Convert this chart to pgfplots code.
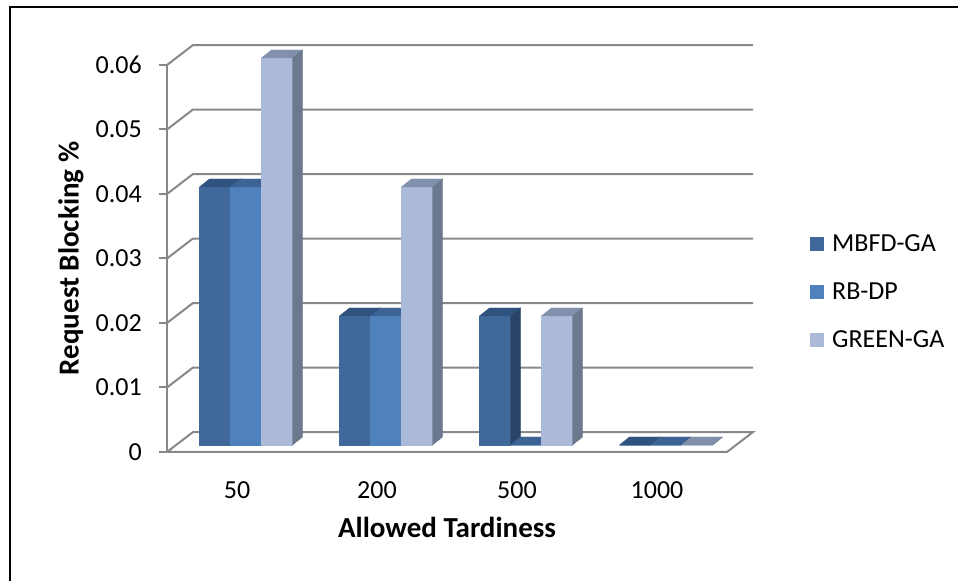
\documentclass[border=0pt]{standalone}
\usepackage{pgfplots}
\pgfplotsset{compat=1.18}
\usepackage{fontspec}
\setmainfont{Carlito}

\definecolor{gridgray}{HTML}{888888}
\definecolor{mbfdF}{HTML}{41689A}
\definecolor{mbfdT}{HTML}{30527F}
\definecolor{mbfdS}{HTML}{2A4468}
\definecolor{rbF}{HTML}{4F81BD}
\definecolor{rbT}{HTML}{3C6394}
\definecolor{rbS}{HTML}{375A86}
\definecolor{grF}{HTML}{AABAD8}
\definecolor{grT}{HTML}{8191AB}
\definecolor{grS}{HTML}{6B788E}

\pgfdeclareplotmark{nothing}{}

\pgfplotsset{
  cube/.style n args={4}{%
    forget plot, only marks, mark=nothing, scatter,
    point meta=y, point meta min=0, point meta max=0.06,
    scatter/@pre marker code/.code={%
      \pgfmathsetmacro\hh{\pgfplotspointmetatransformed*0.387}%
      \pgfmathsetmacro\LL{#1-6.5}%
      \fill[#2] (\LL bp,7bp-\hh bp) rectangle (\LL bp+31bp,7bp);
      \fill[#3] (\LL bp,7bp) -- ++(10bp,8bp) -- ++(31bp,0bp) -- ++(-10bp,-8bp) -- cycle;
      \fill[#4] (\LL bp+31bp,7bp) -- ++(10bp,8bp) -- ++(0bp,-\hh bp) -- ++(-10bp,-8bp) -- cycle;
    },
    scatter/@post marker code/.code={},
  },
}

\begin{document}
\begin{tikzpicture}
\useasboundingbox (0,0) rectangle (958bp,581bp);
\begin{axis}[
  at={(167bp,129bp)}, anchor=south west,
  scale only axis, width=560bp, height=387bp,
  xmin=-0.5, xmax=3.5, ymin=0, ymax=0.06,
  clip=false,
  axis lines=left, axis line style={-, draw=gridgray, line width=2bp},
  x axis line style={draw=none},
  xtick={0,1,2,3}, xticklabels={50,200,500,1000},
  xtick style={draw=none},
  ytick={0,0.01,0.02,0.03,0.04,0.05,0.06},
  yticklabels={0,0.01,0.02,0.03,0.04,0.05,0.06},
  scaled y ticks=false,
  ytick style={draw=gridgray, line width=2bp},
  tick align=outside, major tick length=8bp,
  /pgf/number format/assume math mode=true,
  tick label style={font=\fontsize{26bp}{31bp}\selectfont},
  xticklabel style={anchor=base, yshift=-38bp},
  yticklabel style={anchor=east, inner sep=0pt, xshift=-17bp},
  xlabel={Allowed Tardiness},
  ylabel={Request Blocking \%},
  every axis x label/.style={at={(axis description cs:0.5,0)}, anchor=base, yshift=-85bp, font=\fontsize{29bp}{34bp}\selectfont\bfseries},
  every axis y label/.style={at={(axis description cs:0,0.5)}, xshift=-96bp, rotate=90, anchor=center, font=\fontsize{29bp}{34bp}\selectfont\bfseries},
  legend image code/.code={\fill[#1] (0bp,-7bp) rectangle (14bp,7bp);},
  legend style={at={(axis description cs:1.1429,0.4134)}, anchor=west, draw=none, fill=none,
    row sep=30bp, column sep=8bp, nodes={inner sep=0pt}, font=\fontsize{26bp}{31bp}\selectfont},
  legend cell align=left,
]
% back wall grid lines with perspective connectors
\addplot[gridgray, line width=2bp, forget plot] coordinates {(-0.5,0.01) (-0.3143,0.0131) (3.6857,0.0131)};
\addplot[gridgray, line width=2bp, forget plot] coordinates {(-0.5,0.02) (-0.3143,0.0231) (3.6857,0.0231)};
\addplot[gridgray, line width=2bp, forget plot] coordinates {(-0.5,0.03) (-0.3143,0.0331) (3.6857,0.0331)};
\addplot[gridgray, line width=2bp, forget plot] coordinates {(-0.5,0.04) (-0.3143,0.0431) (3.6857,0.0431)};
\addplot[gridgray, line width=2bp, forget plot] coordinates {(-0.5,0.05) (-0.3143,0.0531) (3.6857,0.0531)};
\addplot[gridgray, line width=2bp, forget plot] coordinates {(-0.5,0.06) (-0.3143,0.0631) (3.6857,0.0631)};
% floor
\addplot[gridgray, line width=2bp, fill=white, forget plot] coordinates {(-0.5,0) (3.5,0) (3.6857,0.0031) (-0.3143,0.0031) (-0.5,0)};
% bars (front, top and side faces)
\addplot[cube={-31}{mbfdF}{mbfdT}{mbfdS}] coordinates {(0,0.04) (1,0.02) (2,0.02) (3,0)};
\addplot[cube={0}{rbF}{rbT}{rbS}] coordinates {(0,0.04) (1,0.02) (2,0) (3,0)};
\addplot[cube={31}{grF}{grT}{grS}] coordinates {(0,0.06) (1,0.04) (2,0.02) (3,0)};
\addlegendimage{fill=mbfdF, draw=none}
\addlegendentry{MBFD-GA}
\addlegendimage{fill=rbF, draw=none}
\addlegendentry{RB-DP}
\addlegendimage{fill=grF, draw=none}
\addlegendentry{GREEN-GA}
\end{axis}
\draw[line width=2.5bp, black] (10bp,0bp) -- (10bp,574bp) -- (958bp,574bp);
\end{tikzpicture}
\end{document}
